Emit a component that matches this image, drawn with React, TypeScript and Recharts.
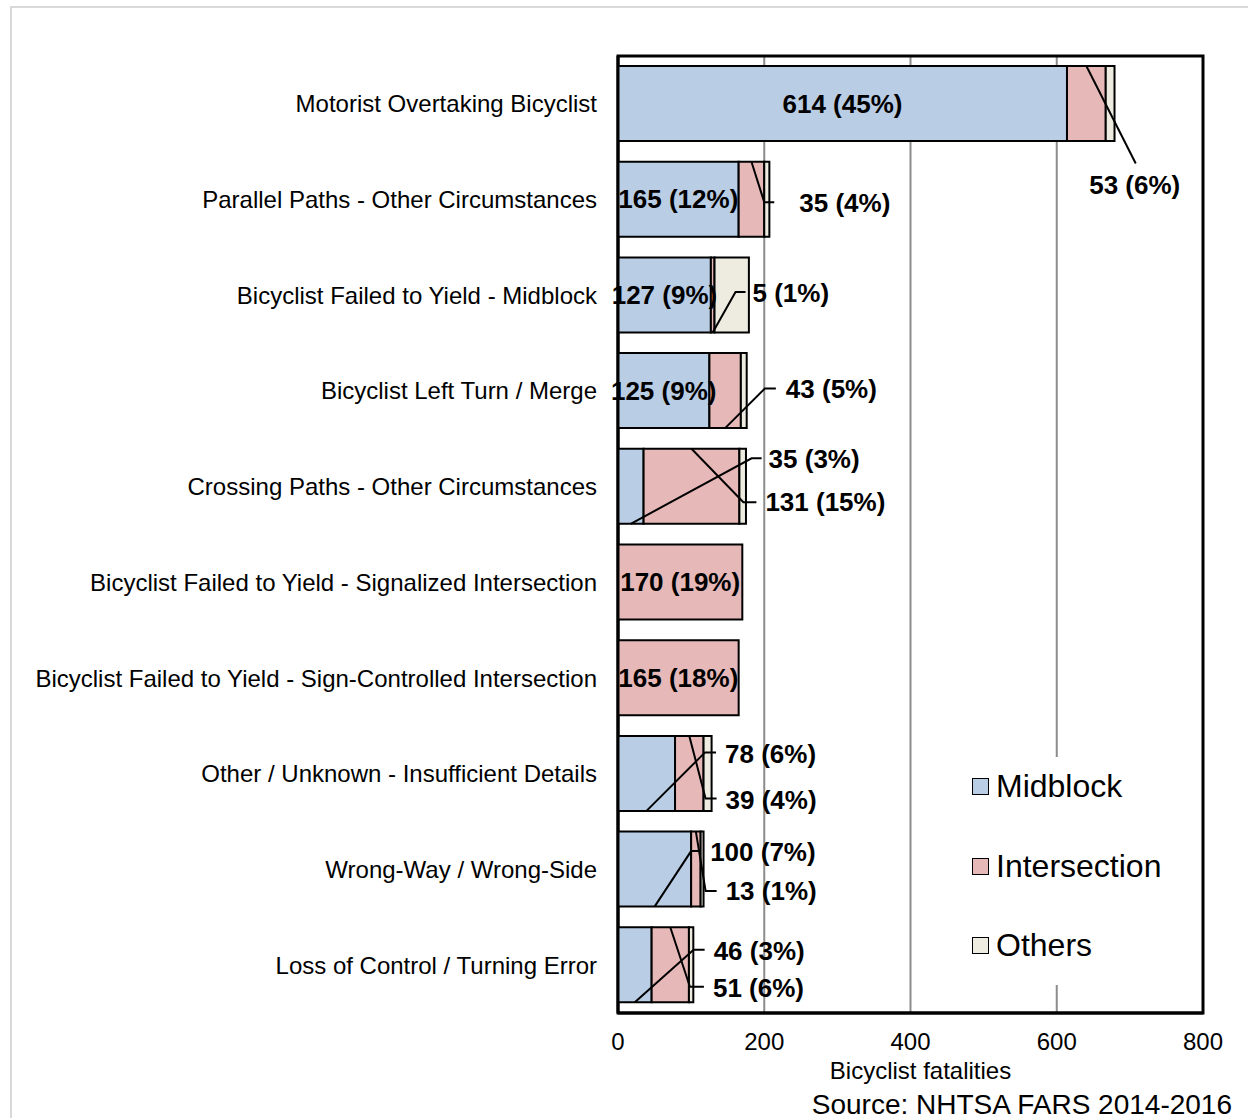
import React from "react";
import { BarChart, Bar, XAxis, YAxis, CartesianGrid, Legend, LabelList, Label, ReferenceArea } from "recharts";

const categories = [
  "Motorist Overtaking Bicyclist",
  "Parallel Paths - Other Circumstances",
  "Bicyclist Failed to Yield - Midblock",
  "Bicyclist Left Turn / Merge",
  "Crossing Paths - Other Circumstances",
  "Bicyclist Failed to Yield - Signalized Intersection",
  "Bicyclist Failed to Yield - Sign-Controlled Intersection",
  "Other / Unknown - Insufficient Details",
  "Wrong-Way / Wrong-Side",
  "Loss of Control / Turning Error",
];
const midblock = [614, 165, 127, 125, 35, 0, 0, 78, 100, 46];
const intersection = [53, 35, 5, 43, 131, 170, 165, 39, 13, 51];
const others = [12, 7, 47, 8, 9, 0, 0, 11, 4, 6];
const midblockLabels = ["614 (45%)", "165 (12%)", "127 (9%)", "125 (9%)", "35 (3%)", "", "", "78 (6%)", "100 (7%)", "46 (3%)"];
const intersectionLabels = ["53 (6%)", "35 (4%)", "5 (1%)", "43 (5%)", "131 (15%)", "170 (19%)", "165 (18%)", "39 (4%)", "13 (1%)", "51 (6%)"];
const seriesNames = ["Midblock", "Intersection", "Others"];
const xTicks = [0, 200, 400, 600, 800];

const FONT = "Arial, 'Liberation Sans', sans-serif";
const COLORS = { mid: "#b9cde5", int: "#e6b9b8", oth: "#eeece1" };

// leader line layout: edge 1 = bottom of segment, -1 = top; elbow offsets from segment right edge / bar centre
type Callout = { edge: number; ex: number; ey: number; tick: number; lx: number; ly: number; anchor?: string };
const midCallouts: Record<number, Callout> = {
  4: { edge: 1, ex: 108, ey: -28, tick: 10, lx: 17, ly: 1 },
  7: { edge: 1, ex: 30, ey: -21, tick: 11, lx: 20, ly: 1 },
  8: { edge: 1, ex: 0, ey: -18, tick: 8, lx: 19, ly: 1 },
  9: { edge: 1, ex: 42, ey: -15, tick: 11, lx: 20, ly: 1 },
};
const intCallouts: Record<number, Callout> = {
  0: { edge: -1, ex: 30, ey: 60, tick: 0, lx: -1, ly: 21, anchor: "middle" },
  1: { edge: -1, ex: 0, ey: 3, tick: 10, lx: 35, ly: 1 },
  2: { edge: 1, ex: 21, ey: -3, tick: 10, lx: 17, ly: 1 },
  3: { edge: 1, ex: 24, ey: -2, tick: 11, lx: 21, ly: 0 },
  4: { edge: -1, ex: 4, ey: 16, tick: 13, lx: 22, ly: 0 },
  7: { edge: -1, ex: 2, ey: 25, tick: 11, lx: 20, ly: 1 },
  8: { edge: -1, ex: 5, ey: 22, tick: 11, lx: 20, ly: 0 },
  9: { edge: -1, ex: 1, ey: 22, tick: 14, lx: 23, ly: 1 },
};

const data = categories.map((name, i) => ({
  name,
  idx: i,
  midblock: midblock[i],
  intersection: intersection[i],
  others: others[i],
}));

function makeLabel(texts: string[], callouts: Record<number, Callout>) {
  return (props: any) => {
    const vb = props.viewBox ?? {};
    const x = Number(props.x ?? vb.x);
    const y = Number(props.y ?? vb.y);
    const w = Number(props.width ?? vb.width);
    const h = Number(props.height ?? vb.height);
    const i = Number(props.value);
    const text = texts[i];
    if (!text) return null;
    const cy = y + h / 2;
    const style = { fontFamily: FONT, fontSize: 26, fontWeight: 700, fill: "#000" };
    const c = callouts[i];
    if (!c) {
      return (
        <text x={x + w / 2} y={cy} dy="0.35em" textAnchor="middle" style={style}>
          {text}
        </text>
      );
    }
    const ax = x + w / 2;
    const ay = c.edge > 0 ? y + h : y;
    const ex = x + w + c.ex;
    const ey = cy + c.ey;
    return (
      <g>
        <polyline points={`${ax},${ay} ${ex},${ey} ${ex + c.tick},${ey}`} fill="none" stroke="#000" strokeWidth={2} />
        <text x={ex + c.lx} y={ey + c.ly} dy="0.35em" textAnchor={c.anchor ?? "start"} style={style}>
          {text}
        </text>
      </g>
    );
  };
}

function LegendBox({ payload }: { payload?: any[] }) {
  const items = seriesNames
    .map((n) => (payload ?? []).find((p) => p.value === n))
    .filter(Boolean);
  return (
    <div style={{ background: "#fff", width: 238, height: 228, position: "relative" }}>
      <div style={{ position: "absolute", left: 0, top: -10 }}>
        {items.map((p: any) => (
          <div key={p.value} style={{ display: "flex", alignItems: "center", height: 79.5, paddingLeft: 11 }}>
            <span style={{ width: 15, height: 15, background: p.color, border: "1.5px solid #000", marginRight: 7 }} />
            <span style={{ fontFamily: FONT, fontSize: 32, color: "#000" }}>{p.value}</span>
          </div>
        ))}
      </div>
    </div>
  );
}

export default function App() {
  return (
    <div style={{ position: "absolute", left: 0, top: 0, width: 1248, height: 1118, background: "#fff" }}>
      <div style={{ position: "absolute", left: 10, top: 6, right: 0, bottom: 0, borderLeft: "2px solid #d9d9d9", borderTop: "2px solid #d9d9d9" }} />
      <div style={{ position: "absolute", left: 0, top: 0 }}>
        <BarChart
          width={1248}
          height={1118}
          data={data}
          layout="vertical"
          margin={{ top: 56, right: 45, bottom: 0, left: 0 }}
        >
          <CartesianGrid horizontal={false} stroke="#8c8c8c" strokeWidth={2} />
          <XAxis
            type="number"
            domain={[0, 800]}
            ticks={xTicks}
            tickLine={false}
            tickSize={0}
            tickMargin={20}
            axisLine={{ stroke: "#000", strokeWidth: 3 }}
            tick={{ fontFamily: FONT, fontSize: 24, fill: "#000" }}
            height={105}
          >
            <Label
              value="Bicyclist fatalities"
              position="insideBottom"
              offset={39}
              dx={10}
              style={{ fontFamily: FONT, fontSize: 24, fill: "#000" }}
            />
          </XAxis>
          <YAxis
            type="category"
            dataKey="name"
            width={618}
            tickLine={false}
            tickSize={0}
            tickMargin={21}
            axisLine={{ stroke: "#000", strokeWidth: 3 }}
            tick={{ fontFamily: FONT, fontSize: 24, fill: "#000" }}
            interval={0}
          />
          <Legend
            layout="vertical"
            align="center"
            verticalAlign="middle"
            content={<LegendBox />}
            wrapperStyle={{ position: "absolute", left: 961, top: 757, width: 238, height: 228 }}
          />
          <Bar dataKey="midblock" name="Midblock" stackId="a" fill={COLORS.mid} stroke="#000" strokeWidth={2} barSize={75} isAnimationActive={false}>
            <LabelList dataKey="idx" content={makeLabel(midblockLabels, midCallouts)} />
          </Bar>
          <Bar dataKey="intersection" name="Intersection" stackId="a" fill={COLORS.int} stroke="#000" strokeWidth={2} barSize={75} isAnimationActive={false}>
            <LabelList dataKey="idx" content={makeLabel(intersectionLabels, intCallouts)} />
          </Bar>
          <Bar dataKey="others" name="Others" stackId="a" fill={COLORS.oth} stroke="#000" strokeWidth={2} barSize={75} isAnimationActive={false} />
          <ReferenceArea x1={0} x2={800} fill="none" fillOpacity={0} stroke="#000" strokeWidth={3} ifOverflow="visible" />
        </BarChart>
      </div>
      <div
        style={{
          position: "absolute",
          left: 0,
          top: 1090,
          width: 1232,
          textAlign: "right",
          fontFamily: FONT,
          fontSize: 28,
          lineHeight: "30px",
          color: "#000",
        }}
      >
        Source: NHTSA FARS 2014-2016
      </div>
    </div>
  );
}
